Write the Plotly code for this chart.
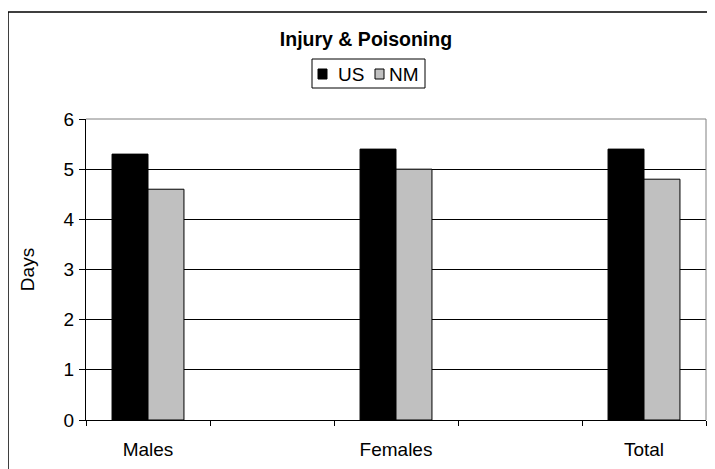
import plotly.graph_objects as go

categories = ["Males", "", "Females", "", "Total"]
us_values = [5.3, None, 5.4, None, 5.4]
nm_values = [4.6, None, 5.0, None, 4.8]
series_names = ["US", "NM"]
series_colors = ["#000000", "#C0C0C0"]
y_ticks = [0, 1, 2, 3, 4, 5, 6]

x_pos = list(range(len(categories)))
label_pos = [i for i, c in enumerate(categories) if c]
label_text = [c for c in categories if c]

# The page puts the figure at an 8px offset; work in screen pixels, convert.
OFF = 8
W, H = 715 - OFF, 469 - OFF
L, R, T, B = 86 - OFF, 9, 119 - OFF, 49
PW, PH = W - L - R, H - T - B


def px(x):
    return (x - OFF - L) / PW


def py(y):
    return (H - B - (y - OFF)) / PH


FONT = "Liberation Sans, Arial, sans-serif"

fig = go.Figure()
for name, vals, col in zip(series_names, [us_values, nm_values], series_colors):
    fig.add_trace(go.Bar(
        x=x_pos, y=vals, name=name,
        marker=dict(color=col, line=dict(color="#000000", width=1)),
    ))

# manual legend (compact, Excel-like)
leg_box = (312, 425, 59, 88)
leg_items = [("US", series_colors[0], 318, 336), ("NM", series_colors[1], 375, 387)]
leg_cy = 74

shapes = [
    # plot-area border (top and right) in gray
    dict(type="line", xref="paper", yref="paper", x0=0, x1=1, y0=1, y1=1,
         line=dict(color="#808080", width=1)),
    dict(type="line", xref="paper", yref="paper", x0=1, x1=1, y0=0, y1=1,
         line=dict(color="#808080", width=1)),
    # outer chart border
    dict(type="rect", xref="paper", yref="paper",
         x0=px(8), x1=px(730), y0=py(480), y1=py(12),
         line=dict(color="#000000", width=1.5)),
    # legend box
    dict(type="rect", xref="paper", yref="paper",
         x0=px(leg_box[0]), x1=px(leg_box[1]), y0=py(leg_box[3]), y1=py(leg_box[2]),
         line=dict(color="#000000", width=1), fillcolor="white"),
]
annotations = []
for text, col, sx, tx in leg_items:
    shapes.append(dict(type="rect", xref="paper", yref="paper",
                       x0=px(sx), x1=px(sx + 9), y0=py(leg_cy + 5), y1=py(leg_cy - 5),
                       line=dict(color="#000000", width=1), fillcolor=col))
    annotations.append(dict(text=text, xref="paper", yref="paper", x=px(tx), y=py(leg_cy),
                            xanchor="left", yanchor="middle", showarrow=False,
                            font=dict(size=19, family=FONT, color="#000000")))

fig.update_layout(
    width=W, height=H,
    margin=dict(l=L, r=R, t=T, b=B, autoexpand=False),
    paper_bgcolor="white", plot_bgcolor="white",
    barmode="group", bargap=0.42, bargroupgap=0,
    font=dict(family=FONT, color="#000000", size=19),
    title=dict(text="<b>Injury &amp; Poisoning</b>", x=(366 - OFF) / W, xanchor="center",
               y=1 - (39 - OFF) / H, yanchor="middle", font=dict(size=19.5), automargin=False),
    showlegend=False,
    xaxis=dict(
        range=[-0.5, len(categories) - 0.5],
        tickmode="array", tickvals=label_pos, ticktext=label_text,
        ticks="", showgrid=False, zeroline=False, automargin=False,
        showline=True, linecolor="#000000", linewidth=1,
        tickfont=dict(size=19), ticklabelstandoff=12,
        minor=dict(tickmode="array", tickvals=[i - 0.5 for i in range(len(categories) + 1)],
                   ticks="outside", ticklen=5, tickcolor="#000000", showgrid=False),
    ),
    yaxis=dict(
        range=[0, 6], tickmode="array", tickvals=y_ticks,
        ticks="outside", ticklen=6, tickcolor="#000000",
        showgrid=True, gridcolor="#000000", gridwidth=1,
        zeroline=False, showline=True, linecolor="#000000", linewidth=1,
        tickfont=dict(size=19), ticklabelstandoff=1, automargin=False,
        title=dict(text="Days", font=dict(size=19), standoff=23),
    ),
    shapes=shapes,
    annotations=annotations,
)

fig.write_html("out.html")
